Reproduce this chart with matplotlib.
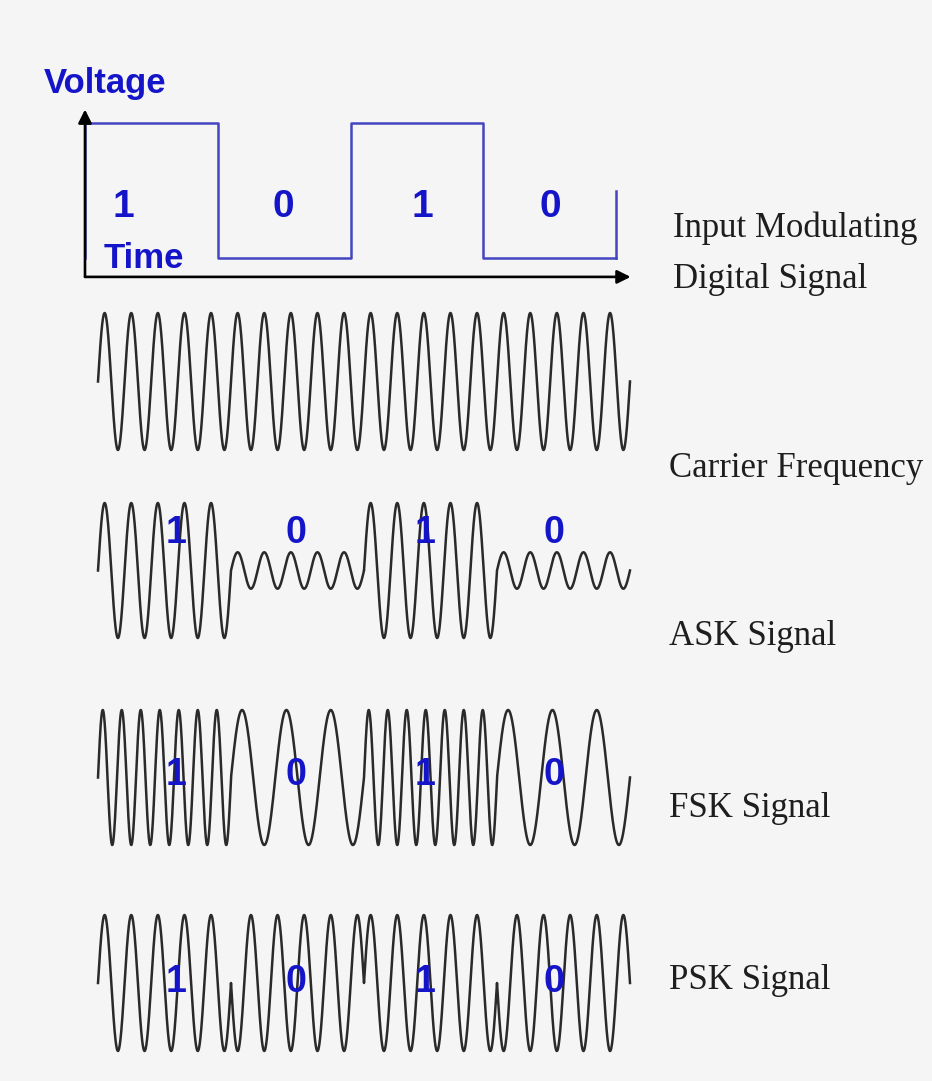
import numpy as np
import matplotlib
matplotlib.use("Agg")
import matplotlib.pyplot as plt

# bit stream and modulation settings
bits = [1, 0, 1, 0]
carrier_cycles = 5              # carrier cycles per bit
ask_amp = [0.27, 1.0]           # amplitude for bit 0 / bit 1
fsk_cycles = [3, 7]             # cycles per bit for bit 0 / bit 1
psk_phase = [np.pi, 0.0]        # phase for bit 0 / bit 1
bit_text = ["1", "0", "1", "0"]

row_names = ["Carrier Frequency", "ASK Signal", "FSK Signal", "PSK Signal"]

W, H = 932, 1081
BLUE = "#1414c8"
LINE_BLUE = "#4444c0"
WAVE = "#2a2a2a"
sans = ["Liberation Sans", "DejaVu Sans"]
serif = ["Liberation Serif", "DejaVu Serif"]


def box(x0, x1, y0, y1):
    # pixel box -> figure fraction
    return [x0 / W, 1 - y1 / H, (x1 - x0) / W, (y1 - y0) / H]


def ftext(x, y, s, **kw):
    return fig.text(x / W, 1 - y / H, s, **kw)


n = 600
t_parts, car, ask, fsk, psk = [], [], [], [], []
for i, b in enumerate(bits):
    t = np.linspace(i, i + 1, n)
    t_parts.append(t)
    car.append(np.sin(2 * np.pi * carrier_cycles * t))
    ask.append(ask_amp[b] * np.sin(2 * np.pi * carrier_cycles * t))
    fsk.append(np.sin(2 * np.pi * fsk_cycles[b] * (t - i)))
    psk.append(np.sin(2 * np.pi * carrier_cycles * t + psk_phase[b]))
t_all = np.concatenate(t_parts)
signals = [np.concatenate(s) for s in (car, ask, fsk, psk)]

fig = plt.figure(figsize=(W / 100, H / 100), dpi=100)
fig.patch.set_facecolor("#f5f5f5")

# input digital signal
ax = fig.add_axes(box(85, 616, 123, 258))
ax.set_xlim(0, 4)
ax.set_ylim(0, 1)
ax.axis("off")
ax.step(np.arange(len(bits) + 1), bits + [bits[-1]], where="post",
        color=LINE_BLUE, lw=1.8, clip_on=False)
ax.plot([0, 0], [0, 1], color=LINE_BLUE, lw=1.8, clip_on=False)
ax.plot([4, 4], [0, 0.5], color=LINE_BLUE, lw=1.8, clip_on=False)
arrow = dict(arrowstyle="-|>", color="black", lw=1.9, mutation_scale=20,
             shrinkA=0, shrinkB=0)
ax.annotate("", xy=(0, 1.10), xytext=(0, -0.14), arrowprops=arrow,
            annotation_clip=False)
ax.annotate("", xy=(4.11, -0.14), xytext=(0, -0.14), arrowprops=arrow,
            annotation_clip=False)

ftext(166, 93, "Voltage", ha="right", va="baseline", color=BLUE,
      fontsize=25, fontweight="bold", family=sans)
ftext(104, 268, "Time", ha="left", va="baseline", color=BLUE,
      fontsize=25, fontweight="bold", family=sans)
for x, s in zip([123, 283, 422, 550], bit_text):
    ftext(x, 217, s, ha="center", va="baseline", color=BLUE,
          fontsize=28, fontweight="bold", family=sans)

# modulated rows
centers = [381.5, 570.5, 777.5, 983]
amps = [68.5, 67.5, 67.5, 68]
for sig, c, a in zip(signals, centers, amps):
    ax = fig.add_axes(box(98, 630, c - a, c + a))
    ax.set_xlim(0, 4)
    ax.set_ylim(-1, 1)
    ax.axis("off")
    ax.plot(t_all, sig, color=WAVE, lw=1.8, clip_on=False)

label_x = [176, 296, 425, 554]
for base in [543, 785, 992]:
    for x, s in zip(label_x, bit_text):
        ftext(x, base, s, ha="center", va="baseline", color=BLUE,
              fontsize=27, fontweight="bold", family=sans)

# right-hand captions
cap_kw = dict(ha="left", va="baseline", color="#1e1e1e", fontsize=25,
              family=serif)
ftext(673, 237, "Input Modulating", **cap_kw)
ftext(673, 288, "Digital Signal", **cap_kw)
for name, base in zip(row_names, [477, 645, 817, 989]):
    ftext(669, base, name, **cap_kw)

fig.savefig("out.png", dpi=100, facecolor=fig.get_facecolor())
